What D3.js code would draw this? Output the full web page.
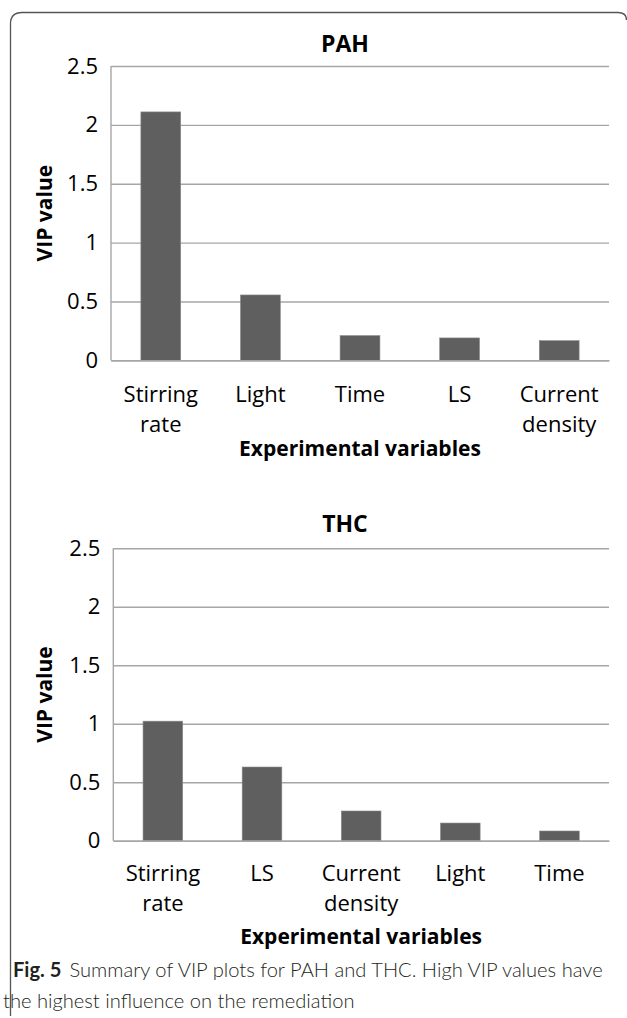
<!DOCTYPE html>
<html>
<head>
<meta charset="utf-8">
<script src="https://cdn.jsdelivr.net/npm/d3@7"></script>
<style>
  html, body { margin: 0; padding: 0; background: #fff; }
  svg { display: block; }
</style>
</head>
<body>
<svg id="chart" width="627" height="1018"></svg>
<script>
// ---- Data ----
const yTickValues = [0, 0.5, 1, 1.5, 2, 2.5];
const pahTitle = "PAH";
const pahCategories = ["Stirring rate", "Light", "Time", "LS", "Current density"];
const pahValues = [2.11, 0.555, 0.21, 0.19, 0.167];
const thcTitle = "THC";
const thcCategories = ["Stirring rate", "LS", "Current density", "Light", "Time"];
const thcValues = [1.022, 0.63, 0.254, 0.151, 0.083];
const yAxisTitle = "VIP value";
const xAxisTitle = "Experimental variables";
const captionBold = "Fig. 5";
const captionLine1 = "Summary of VIP plots for PAH and THC. High VIP values have";
const captionLine2 = "the highest influence on the remediation";

// ---- Drawing ----
const svg = d3.select("#chart");
const FONT = "'Open Sans', 'Noto Sans', sans-serif";
const CAPFONT = "Lato, 'Open Sans', sans-serif";
const GRID = "#a6a6a6";
const BAR = "#5f5f5f";

// frame
svg.append("path")
  .attr("d", "M10.5,1016 L10.5,24 Q10.5,12.5 22,12.5 L618,12.5 Q626.5,12.5 626.5,20")
  .attr("fill", "none").attr("stroke", "#555").attr("stroke-width", 1.3);

function drawPanel(cfg) {
  const { title, categories, values, left, right, top, bottom, titleY, titleX, labelOffset, axisTitleY } = cfg;
  const g = svg.append("g");
  const y = d3.scaleLinear().domain([0, 2.5]).range([bottom, top]);
  const x = d3.scaleBand().domain(categories).range([left, right]).paddingInner(0.6).paddingOuter(0.3);

  const yAxis = g.append("g").attr("transform", `translate(${left},0)`)
    .call(d3.axisLeft(y).tickValues(yTickValues).tickSize(-(right - left)).tickPadding(13)
      .tickFormat(d => String(d)));
  yAxis.select(".domain").remove();
  yAxis.selectAll(".tick line").attr("stroke", GRID).attr("stroke-width", 1.4);
  yAxis.selectAll(".tick text").attr("font-family", FONT).attr("font-size", 22).attr("fill", "#000");

  g.append("line").attr("x1", left).attr("x2", left).attr("y1", top).attr("y2", bottom)
    .attr("stroke", GRID).attr("stroke-width", 1.4);

  g.selectAll("rect.bar").data(values).join("rect").attr("class", "bar")
    .attr("x", (d, i) => x(categories[i]))
    .attr("width", x.bandwidth())
    .attr("y", d => y(d))
    .attr("height", d => y(0) - y(d))
    .attr("fill", BAR).attr("stroke", "#8a8a8a").attr("stroke-width", 0.6);

  const xAxis = g.append("g").attr("transform", `translate(0,${bottom})`)
    .call(d3.axisBottom(x).tickSize(0).tickFormat(""));
  xAxis.select(".domain").attr("stroke", GRID).attr("stroke-width", 1.6);
  xAxis.selectAll(".tick").each(function(d) {
    const t = d3.select(this).append("text")
      .attr("font-family", FONT).attr("font-size", 22).attr("fill", "#000")
      .attr("text-anchor", "middle");
    d.split(" ").forEach((w, i) => {
      t.append("tspan").attr("x", 0).attr("y", labelOffset + i * 30).text(w);
    });
  });

  g.append("text").attr("x", titleX).attr("y", titleY).attr("text-anchor", "middle")
    .attr("font-family", FONT).attr("font-weight", "bold").attr("font-size", 23).text(title);

  g.append("text").attr("transform", `translate(52,${(top + bottom) / 2}) rotate(-90)`)
    .attr("text-anchor", "middle")
    .attr("font-family", FONT).attr("font-weight", "bold").attr("font-size", 21).text(yAxisTitle);

  g.append("text").attr("x", (left + right) / 2).attr("y", axisTitleY).attr("text-anchor", "middle")
    .attr("font-family", FONT).attr("font-weight", "bold").attr("font-size", 21).text(xAxisTitle);
}

drawPanel({ title: pahTitle, categories: pahCategories, values: pahValues,
  left: 111, right: 609, top: 66, bottom: 360.3, titleX: 345, titleY: 52, labelOffset: 42, axisTitleY: 456 });
drawPanel({ title: thcTitle, categories: thcCategories, values: thcValues,
  left: 113.3, right: 609, top: 548.3, bottom: 840.7, titleX: 345, titleY: 532, labelOffset: 40, axisTitleY: 944 });

// caption
const cap = svg.append("text").attr("x", 13).attr("y", 977)
  .attr("font-family", CAPFONT).attr("font-weight", 300).attr("font-size", 20).attr("fill", "#231f20");
cap.append("tspan").attr("font-weight", "bold").text(captionBold);
cap.append("tspan").attr("dx", 8).text(captionLine1);
const cap2 = svg.append("text").attr("x", 3).attr("y", 1008)
  .attr("font-family", CAPFONT).attr("font-weight", 300).attr("font-size", 20).attr("fill", "#231f20").text(captionLine2);
// fit caption width to the reference line length
const w1 = cap.node().getComputedTextLength();
const s = (595 - 13) / w1;
cap.attr("font-size", 20 * s);
cap2.attr("font-size", 20 * s);
</script>
</body>
</html>
